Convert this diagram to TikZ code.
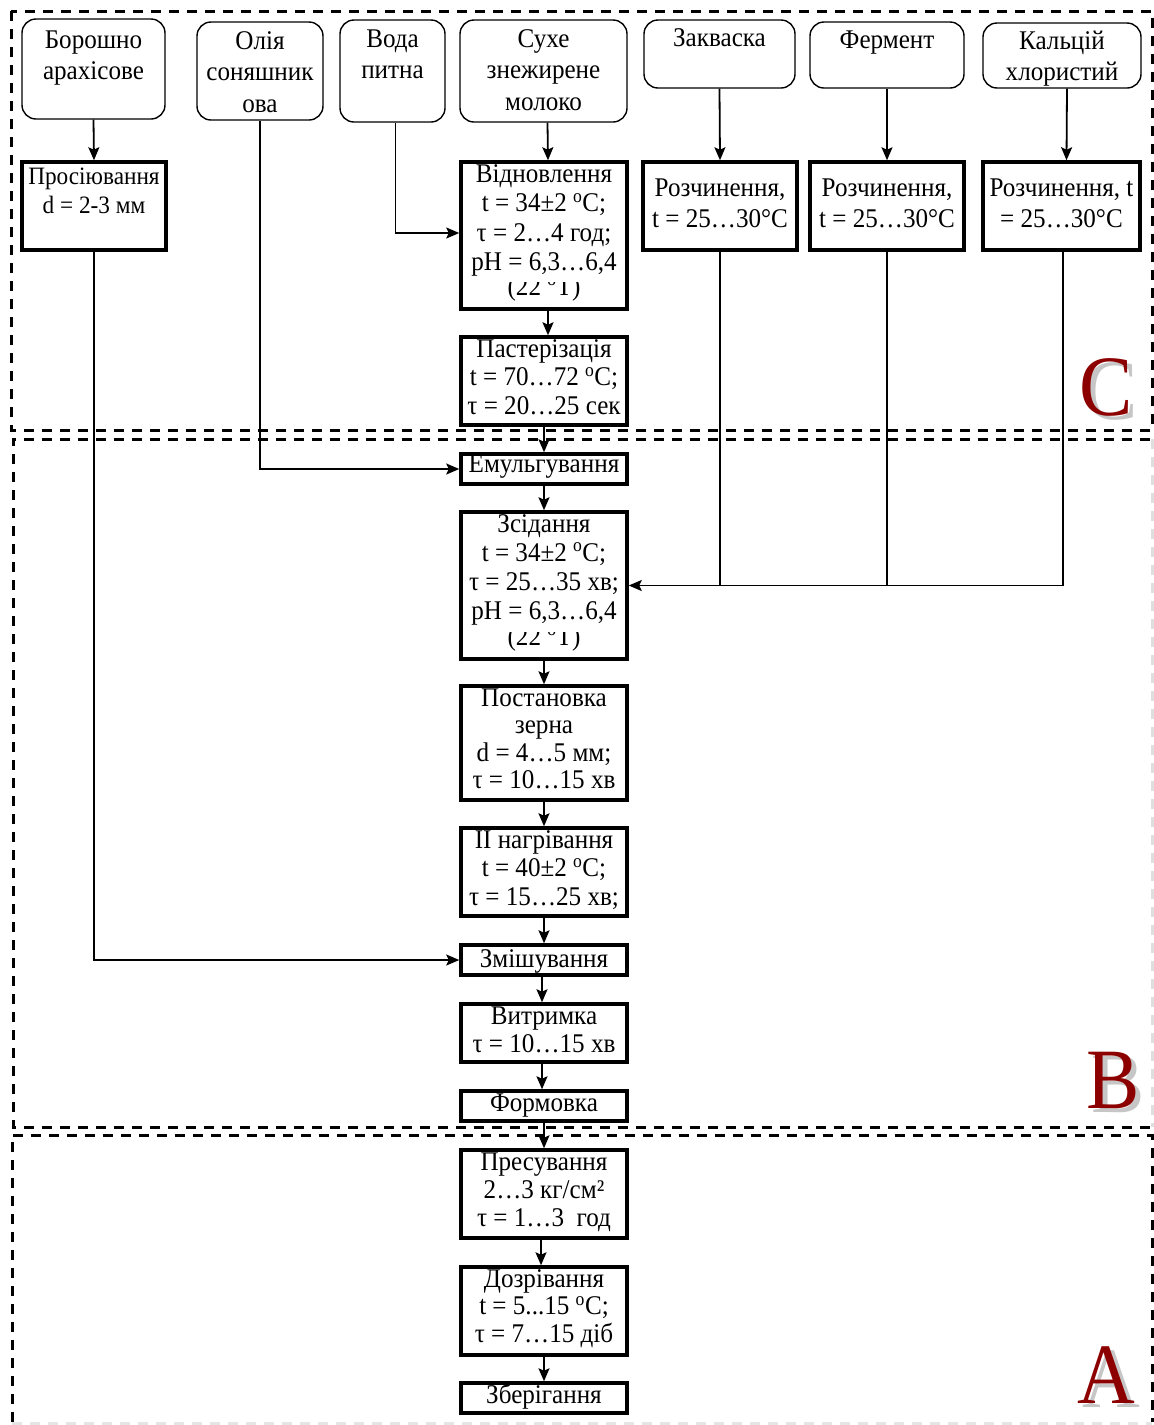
\documentclass[tikz,border=0pt]{standalone}
\usepackage{fontspec}
\setmainfont{Liberation Serif}[FakeStretch=0.93]
\usetikzlibrary{arrows.meta}
\definecolor{maroonC}{RGB}{140,0,0}
\newcommand{\tb}[5]{\parbox[c][#2pt][t]{#1pt}{\baselineskip=#4pt\centering\rule{0pt}{#3pt}#5}}
\newcommand{\dg}{\textsuperscript{o}}
\begin{document}
\begin{tikzpicture}[x=1pt,y=-1pt,
  every node/.style={font=\fontsize{27}{28.5}\selectfont},
  pbox/.style={draw, line width=3.5pt, inner sep=0pt, fill=white},
  rbox/.style={draw, line width=1.4pt, rounded corners=14pt, inner sep=0pt, fill=white},
  arr/.style={line width=1.8pt, -{Stealth[length=13pt,width=11pt,inset=2.5pt]}},
  ln/.style={line width=1.8pt},
  frame/.style={line width=3pt, dash pattern=on 10pt off 8pt},
  letter/.style={font=\fontsize{86}{86}\selectfont, anchor=base, inner sep=0pt}]
\useasboundingbox (0,0) rectangle (1154,1425);
% frames
\draw[frame] (11,11) rectangle (1152,430);
\draw[frame] (1150,439) -- (13,439) -- (13,1127) -- (1150,1127);
\draw[frame, gray!25] (1152,439) -- (1152,1127);
\draw[frame] (12,1422) -- (12,1135) -- (1152,1135) -- (1152,1422);
\draw[frame, gray!20] (12,1423) -- (1152,1423);
% letters
\node[letter, text=gray!45] (lCs) at (1111,419) {C};
\node[letter, text=maroonC] (lC) at (1106,415) {C};
\node[letter, text=gray!45] (lBs) at (1118,1112) {B};
\node[letter, text=maroonC] (lB) at (1113,1108) {B};
\node[letter, text=gray!45] (lAs) at (1111,1407) {A};
\node[letter, text=maroonC] (lA) at (1106,1403) {A};
% raw materials
\node[rbox] (bor) at (93.5,69) {\tb{143}{100}{29}{31.5}{Борошно\\арахісове}};
\node[rbox] (olia) at (260,71) {\tb{126}{98}{27}{31.5}{Олія\\соняшник\\ова}};
\node[rbox] (voda) at (392.5,71) {\tb{105}{102}{27}{31.5}{Вода\\питна}};
\node[rbox] (sukhe) at (543.5,71) {\tb{167}{102}{27}{31.5}{Сухе\\знежирене\\молоко}};
\node[rbox] (zakv) at (719.5,54) {\tb{151}{68}{26}{31.5}{Закваска}};
\node[rbox] (ferm) at (887,55) {\tb{154}{66}{26}{31.5}{Фермент}};
\node[rbox] (kal) at (1062,55.5) {\tb{158}{65}{26}{31.5}{Кальцій\\хлористий}};
% process boxes
\node[pbox, font=\fontsize{25}{29}\selectfont] (pros) at (94,206) {\tb{144}{88}{22}{29}{Просіювання\\d = 2-3 мм}};
\node[pbox] (vidn) at (544,235.5) {\tb{166}{147}{20}{29.5}{Відновлення\\t = 34±2 \dg C;\\τ = 2…4 год;\\pH = 6,3…6,4}};
\begin{scope}
\clip (462,282) rectangle (626,307);
\node[anchor=base] (vidnx) at (544,295) {(22 \dg Т)};
\end{scope}
\node[pbox] (roz1) at (720,206) {\tb{154}{88}{34}{31}{Розчинення,\\t = 25…30°C}};
\node[pbox] (roz2) at (887,206) {\tb{154}{88}{34}{31}{Розчинення,\\t = 25…30°C}};
\node[pbox] (roz3) at (1061.5,206) {\tb{157}{88}{34}{31}{Розчинення, t\\= 25…30°C}};
\node[pbox] (past) at (544,381) {\tb{166}{88}{20}{28.5}{Пастерізація\\t = 70…72 \dg C;\\τ = 20…25 сек}};
\node[pbox] (emul) at (544,469) {\tb{166}{30}{18}{28.5}{Емульгування}};
\node[pbox] (zsid) at (544,585.5) {\tb{166}{147}{20}{29}{Зсідання\\t = 34±2 \dg C;\\τ = 25…35 хв;\\pH = 6,3…6,4}};
\begin{scope}
\clip (462,632) rectangle (626,657);
\node[anchor=base] (zsidx) at (544,645) {(22 \dg Т)};
\end{scope}
\node[pbox] (post) at (544,743) {\tb{166}{114}{20}{27.5}{Постановка\\зерна\\d = 4…5 мм;\\τ = 10…15 хв}};
\node[pbox] (nagr) at (544,872) {\tb{166}{88}{20}{28.5}{II нагрівання\\t = 40±2 \dg C;\\τ = 15…25 хв;}};
\node[pbox] (zmish) at (544,960) {\tb{166}{30}{22}{28.5}{Змішування}};
\node[pbox] (vytr) at (544,1033) {\tb{166}{58}{20}{28}{Витримка\\τ = 10…15 хв}};
\node[pbox] (form) at (544,1106) {\tb{166}{30}{20}{28.5}{Формовка}};
\node[pbox] (pres) at (544,1194) {\tb{166}{88}{20}{28}{Пресування\\2…3 кг/см²\\τ = 1…3 \ год}};
\node[pbox] (dozr) at (544,1311) {\tb{166}{88}{20}{27.5}{Дозрівання\\t = 5...15 \dg C;\\τ = 7…15 діб}};
\node[pbox] (zber) at (544,1398) {\tb{166}{30}{20}{28.5}{Зберігання}};
% connectors
\draw[arr] (bor.south) -- (pros.north);
\draw[arr] ([xshift=4pt]sukhe.south) -- ([xshift=4pt]vidn.north);
\draw[arr] (zakv.south) -- (roz1.north);
\draw[arr] (ferm.south) -- (roz2.north);
\draw[arr] ([xshift=5pt]kal.south) -- ([xshift=5pt]roz3.north);
\draw[arr] ([xshift=3pt]voda.south) |- ([yshift=2.5pt]vidn.west);
\draw[arr] (olia.south) |- (emul.west);
\draw[arr] (pros.south) |- (zmish.west);
\draw[arr] ([xshift=4pt]vidn.south) -- ([xshift=4pt]past.north);
\draw[arr] (past.south) -- (emul.north);
\draw[arr] (emul.south) -- (zsid.north);
\draw[arr] (zsid.south) -- (post.north);
\draw[arr] (post.south) -- (nagr.north);
\draw[arr] (nagr.south) -- (zmish.north);
\draw[arr] ([xshift=-2pt]zmish.south) -- ([xshift=-2pt]vytr.north);
\draw[arr] ([xshift=-2pt]vytr.south) -- ([xshift=-2pt]form.north);
\draw[arr] (form.south) -- (pres.north);
\draw[arr] ([xshift=-3pt]pres.south) -- ([xshift=-3pt]dozr.north);
\draw[arr] (dozr.south) -- (zber.north);
\draw[arr] ([xshift=1.5pt]roz3.south) |- (zsid.east);
\draw[ln] (roz1.south) -- (roz1.south |- zsid.east);
\draw[ln] (roz2.south) -- (roz2.south |- zsid.east);
\end{tikzpicture}
\end{document}
